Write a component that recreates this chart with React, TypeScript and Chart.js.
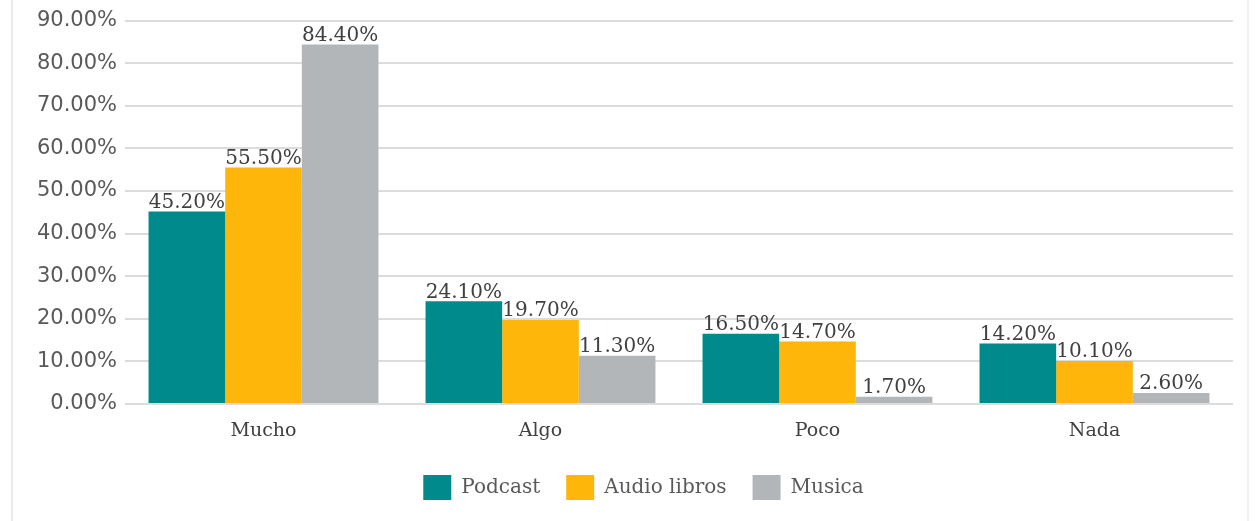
import React, { useEffect, useRef } from "react";
import { Chart, registerables } from "chart.js";

Chart.register(...registerables);

const categories = ["Mucho", "Algo", "Poco", "Nada"];
const podcast = [45.2, 24.1, 16.5, 14.2];
const audioLibros = [55.5, 19.7, 14.7, 10.1];
const musica = [84.4, 11.3, 1.7, 2.6];
const seriesNames = ["Podcast", "Audio libros", "Musica"];
const seriesColors = ["#008A8C", "#FFB60B", "#B2B6B9"];
const yTicks = [0, 10, 20, 30, 40, 50, 60, 70, 80, 90];

const dataLabelPlugin = {
  id: "dataLabels",
  afterDatasetsDraw(chart: any) {
    const ctx = chart.ctx;
    ctx.save();
    ctx.font = "20px 'DejaVu Serif'";
    ctx.fillStyle = "#404040";
    ctx.textAlign = "center";
    ctx.textBaseline = "bottom";
    chart.data.datasets.forEach((ds: any, i: number) => {
      const meta = chart.getDatasetMeta(i);
      meta.data.forEach((bar: any, j: number) => {
        const v = ds.data[j] as number;
        ctx.fillText(v.toFixed(2) + "%", bar.x, bar.y + 1);
      });
    });
    ctx.restore();
  },
};

const legendShiftPlugin = {
  id: "legendShift",
  afterLayout(chart: any) {
    const lg = chart.legend;
    if (lg) {
      lg.left += 27;
      lg.right += 27;
    }
  },
};

export default function App() {
  const ref = useRef<HTMLCanvasElement>(null);
  useEffect(() => {
    if (!ref.current) return;
    const chart = new Chart(ref.current, {
      type: "bar",
      data: {
        labels: categories,
        datasets: [podcast, audioLibros, musica].map((d, i) => ({
          label: seriesNames[i],
          data: d,
          backgroundColor: seriesColors[i],
          borderWidth: 0,
          barPercentage: 1,
          categoryPercentage: 0.83,
        })),
      },
      options: {
        animation: false,
        responsive: false,
        maintainAspectRatio: false,
        layout: { padding: { top: 11, right: 24, left: 0, bottom: 11 } },
        plugins: {
          tooltip: { enabled: false },
          legend: {
            position: "bottom",
            labels: {
              boxWidth: 28,
              boxHeight: 25,
              padding: 26,
              color: "#595959",
              font: { family: "'DejaVu Serif'", size: 20 },
            },
          },
        },
        scales: {
          x: {
            afterFit: (s: any) => {
              s.height = 45;
            },
            grid: { display: false, drawTicks: false },
            border: { display: false },
            ticks: {
              color: "#404040",
              padding: 16,
              font: { family: "'DejaVu Serif'", size: 19 },
            },
          },
          y: {
            min: 0,
            max: 90,
            afterFit: (s: any) => {
              s.width = 125;
            },
            afterBuildTicks: (s: any) => {
              s.ticks = yTicks.map((v) => ({ value: v }));
            },
            grid: { color: "#DCDCDC", lineWidth: 2, drawTicks: false },
            border: { display: false },
            ticks: {
              color: "#595959",
              padding: 8,
              font: { family: "'DejaVu Sans'", size: 21 },
              callback: (v: any) => Number(v).toFixed(2) + "%",
            },
          },
        },
      },
      plugins: [dataLabelPlugin, legendShiftPlugin],
    });
    return () => chart.destroy();
  }, []);
  return (
    <div style={{ position: "absolute", left: 0, top: 0, width: 1257, height: 521, background: "#fff" }}>
      <div style={{ position: "absolute", left: 11, top: 0, width: 2, height: 521, background: "#EBEBEB" }} />
      <div style={{ position: "absolute", left: 1247, top: 0, width: 2, height: 521, background: "#F0F0F0" }} />
      <canvas ref={ref} width={1257} height={521} style={{ position: "absolute", left: 0, top: 0 }} />
    </div>
  );
}
